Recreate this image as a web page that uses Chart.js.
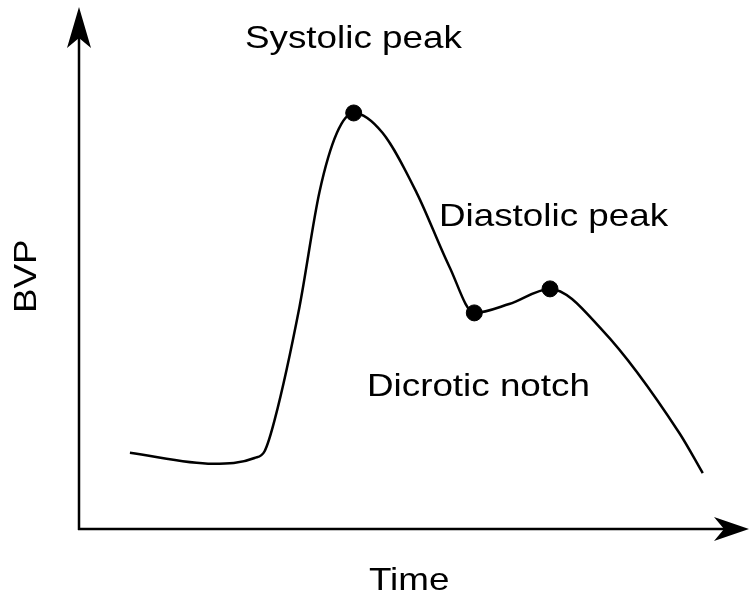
<!DOCTYPE html>
<html>
<head>
<meta charset="utf-8">
<script src="https://cdn.jsdelivr.net/npm/chart.js@4/dist/chart.umd.min.js"></script>
<style>
  html, body { margin: 0; padding: 0; background: #ffffff; }
  #wrap { width: 750px; height: 601px; }
</style>
</head>
<body>
<div id="wrap"><canvas id="c" width="750" height="601"></canvas></div>
<script>
// ---- Data (time vs BVP, arbitrary units) ----
const timeValues = [0.76, 2.00, 2.62, 2.77, 2.92, 3.29, 3.59, 3.85, 4.10, 4.53, 5.04, 5.53, 5.90, 6.42, 7.03, 7.81, 8.96, 9.31];
const bvpValues  = [1.46, 1.25, 1.36, 1.49, 2.09, 4.25, 6.46, 7.59, 7.97, 7.59, 6.44, 5.02, 4.14, 4.31, 4.60, 3.81, 1.84, 1.07];
const markerTimes = [4.10, 5.90, 7.03];
const markerBvp   = [7.97, 4.14, 4.60];
const annotationTexts = ["Systolic peak", "Diastolic peak", "Dicrotic notch"];
const xAxisTitle = "Time";
const yAxisTitle = "BVP";

const curve = timeValues.map((t, i) => ({ x: t, y: bvpValues[i] }));
const markers = markerTimes.map((t, i) => ({ x: t, y: markerBvp[i] }));

const FONT = '32px "Liberation Sans", Arial, sans-serif';
const STRETCH = 1.15;

function stretchedText(ctx, text, x, y, rot) {
  ctx.save();
  ctx.translate(x, y);
  if (rot) ctx.rotate(rot);
  ctx.scale(STRETCH, 1);
  ctx.font = FONT;
  ctx.fillStyle = '#000';
  ctx.textAlign = 'left';
  ctx.textBaseline = 'alphabetic';
  ctx.fillText(text, 0, 0);
  ctx.restore();
}

const axesPlugin = {
  id: 'arrowAxes',
  beforeDatasetsDraw(chart) {
    const ctx = chart.ctx;
    const a = chart.chartArea;
    ctx.save();
    ctx.strokeStyle = '#000';
    ctx.fillStyle = '#000';
    ctx.lineWidth = 2.5;
    // y axis
    ctx.beginPath();
    ctx.moveTo(a.left, a.bottom + 1);
    ctx.lineTo(a.left, a.top + 30);
    ctx.stroke();
    ctx.beginPath();
    ctx.moveTo(a.left, a.top);
    ctx.lineTo(a.left + 12, a.top + 41);
    ctx.lineTo(a.left, a.top + 31);
    ctx.lineTo(a.left - 12, a.top + 41);
    ctx.closePath();
    ctx.fill();
    // x axis
    ctx.beginPath();
    ctx.moveTo(a.left - 1, a.bottom);
    ctx.lineTo(a.right - 25, a.bottom);
    ctx.stroke();
    ctx.beginPath();
    ctx.moveTo(a.right, a.bottom);
    ctx.lineTo(a.right - 35, a.bottom - 12);
    ctx.lineTo(a.right - 25, a.bottom);
    ctx.lineTo(a.right - 35, a.bottom + 12);
    ctx.closePath();
    ctx.fill();
    ctx.restore();
  },
  afterDraw(chart) {
    const ctx = chart.ctx;
    stretchedText(ctx, annotationTexts[0], 245, 48, 0);
    stretchedText(ctx, annotationTexts[1], 439, 226, 0);
    stretchedText(ctx, annotationTexts[2], 367, 396, 0);
    stretchedText(ctx, xAxisTitle, 369, 590, 0);
    stretchedText(ctx, yAxisTitle, 36, 313, -Math.PI / 2);
  }
};

new Chart(document.getElementById('c'), {
  type: 'scatter',
  data: {
    datasets: [
      {
        type: 'line',
        data: curve,
        borderColor: '#000',
        borderWidth: 2.5,
        pointRadius: 0,
        fill: false,
        cubicInterpolationMode: 'monotone',
        order: 2
      },
      {
        type: 'scatter',
        data: markers,
        backgroundColor: '#000',
        borderColor: '#000',
        pointRadius: 8,
        pointHoverRadius: 8,
        order: 1
      }
    ]
  },
  options: {
    responsive: false,
    devicePixelRatio: 1,
    animation: false,
    layout: { autoPadding: false, padding: { left: 79, top: 7, right: 1, bottom: 72 } },
    plugins: { legend: { display: false }, tooltip: { enabled: false } },
    scales: {
      x: { type: 'linear', min: 0, max: 10, display: false },
      y: { type: 'linear', min: 0, max: 10, display: false }
    }
  },
  plugins: [axesPlugin]
});
</script>
</body>
</html>
